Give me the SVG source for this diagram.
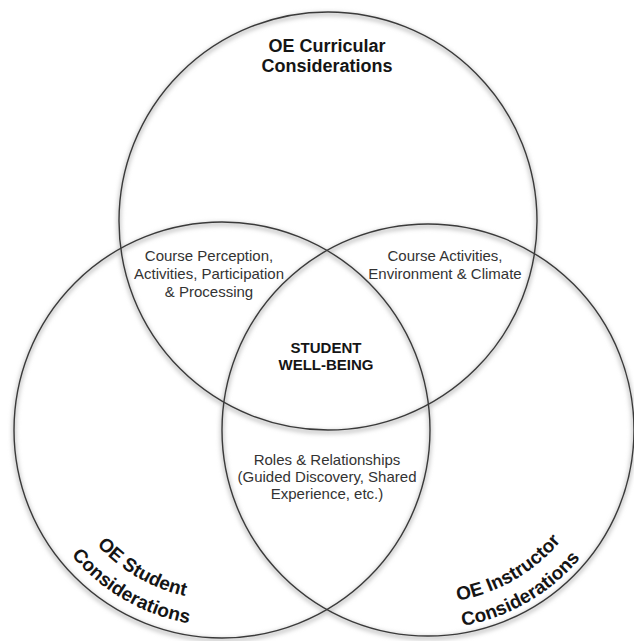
<svg xmlns="http://www.w3.org/2000/svg" width="634" height="641" viewBox="0 0 634 641">
<style>
.ring{fill:none;stroke:#3a3a3a;stroke-width:1.4}
.glow{fill:none;stroke:#c8c8c8;stroke-width:4}
.title{font-family:"Liberation Sans",Arial,Helvetica,sans-serif;font-weight:bold;font-size:18px;fill:#151515;text-anchor:middle}
.arc{font-family:"Liberation Sans",Arial,Helvetica,sans-serif;font-weight:bold;font-size:19px;fill:#151515;text-anchor:middle}
.mid{font-family:"Liberation Sans",Arial,Helvetica,sans-serif;font-size:15px;fill:#333;text-anchor:middle}
.core{font-family:"Liberation Sans",Arial,Helvetica,sans-serif;font-weight:bold;font-size:15px;fill:#151515;text-anchor:middle}
</style>
<defs>
<filter id="soft" x="-10%" y="-10%" width="120%" height="120%">
<feGaussianBlur stdDeviation="2.2"/>
</filter>
<path id="pLeftOuter" d="M 29.0 464.0 A 196 196 0 0 0 289.0 614.2"/>
<path id="pLeftInner" d="M 54.6 459.5 A 170 170 0 0 0 280.1 589.7"/>
<path id="pRightOuter" d="M 359.9 617.0 A 199 199 0 0 0 624.0 464.6"/>
<path id="pRightInner" d="M 368.8 592.6 A 173 173 0 0 0 598.4 460.0"/>
</defs>
<rect width="634" height="641" fill="#ffffff"/>
<g id="shadows" filter="url(#soft)" transform="translate(0,2)">
<circle class="glow" cx="328" cy="221" r="209"/>
<circle class="glow" cx="222" cy="430" r="208"/>
<circle class="glow" cx="428" cy="430" r="206"/>
</g>
<g id="curricular">
<circle class="ring" cx="328" cy="221" r="209"/>
<text class="title" x="327" y="52">OE Curricular</text>
<text class="title" x="327" y="72">Considerations</text>
</g>
<g id="student">
<circle class="ring" cx="222" cy="430" r="208"/>
<text class="arc"><textPath href="#pLeftInner" startOffset="50%">OE Student</textPath></text>
<text class="arc"><textPath href="#pLeftOuter" startOffset="50%">Considerations</textPath></text>
</g>
<g id="instructor">
<circle class="ring" cx="428" cy="430" r="206"/>
<text class="arc"><textPath href="#pRightInner" startOffset="50%">OE Instructor</textPath></text>
<text class="arc"><textPath href="#pRightOuter" startOffset="50%">Considerations</textPath></text>
</g>
<g id="curricular-student">
<text class="mid" x="209" y="261">Course Perception,</text>
<text class="mid" x="209" y="279">Activities, Participation</text>
<text class="mid" x="209" y="297">&amp; Processing</text>
</g>
<g id="curricular-instructor">
<text class="mid" x="445" y="261">Course Activities,</text>
<text class="mid" x="445" y="279">Environment &amp; Climate</text>
</g>
<g id="student-instructor">
<text class="mid" x="327" y="465">Roles &amp; Relationships</text>
<text class="mid" x="327" y="482">(Guided Discovery, Shared</text>
<text class="mid" x="327" y="499">Experience, etc.)</text>
</g>
<g id="well-being">
<text class="core" x="326" y="353">STUDENT</text>
<text class="core" x="326" y="370">WELL-BEING</text>
</g>
</svg>
